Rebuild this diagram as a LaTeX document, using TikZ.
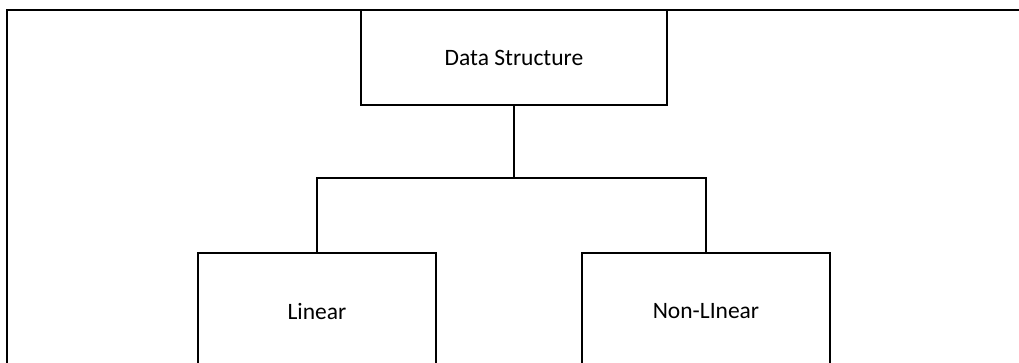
\documentclass[tikz,border=0pt]{standalone}
\usepackage{fontspec}
\setmainfont{Carlito}
\begin{document}
\begin{tikzpicture}[x=1pt,y=-1pt,
  box/.style={draw=black,line width=2pt,inner sep=0pt,
    font=\fontsize{23.5}{27}\selectfont},
  wire/.style={draw=black,line width=2pt}]
\useasboundingbox (0,0) rectangle (1019,362);
\clip (0,0) rectangle (1019,362);
\fill[white] (0,0) rectangle (1019,362);
% outer frame
\draw[line width=2.2pt] (7,420) -- (7,10) -- (1040,10);
% boxes
\node[box,minimum width=306pt,minimum height=95pt] (ds) at (514,57.5) {Data Structure};
\node[box,minimum width=238pt,minimum height=116pt] (lin) at (317,311) {Linear};
\node[box,minimum width=248pt,minimum height=116pt] (nonlin) at (706,311) {Non-LInear};
% connectors
\coordinate (j) at (514,178);
\draw[wire] (ds.south) -- (j);
\draw[wire] (lin.north) |- (j) -| (nonlin.north);
\end{tikzpicture}
\end{document}
